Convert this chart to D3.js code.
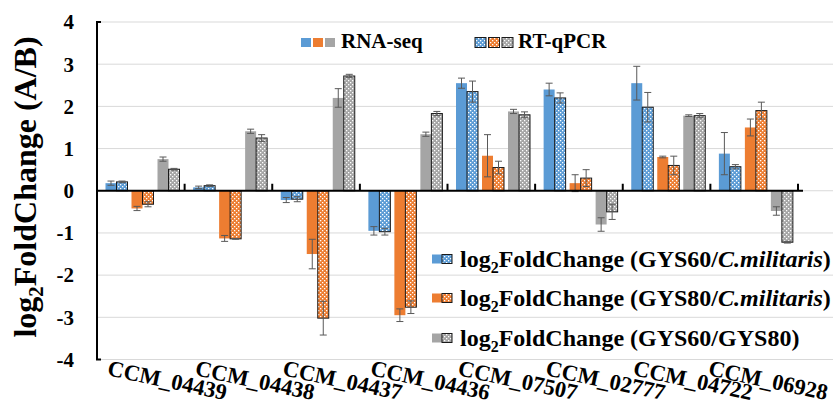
<!DOCTYPE html>
<html>
<head>
<meta charset="utf-8">
<script src="https://cdn.jsdelivr.net/npm/d3@7"></script>
<style>
  body { margin: 0; background: #fff; }
  svg text { font-family: "Liberation Serif", "Times New Roman", serif; font-weight: bold; fill: #000; }
</style>
</head>
<body>
<svg id="chart" width="833" height="408"></svg>
<script>
// categories
var categories = ["CCM_04439", "CCM_04438", "CCM_04437", "CCM_04436", "CCM_07507", "CCM_02777", "CCM_04722", "CCM_06928"];

// log2 fold change, RNA-seq and RT-qPCR, with error
var rnaGys60Cm      = [0.18, 0.08, -0.22, -0.95, 2.55, 2.40, 2.55, 0.88];
var rnaGys60CmErr   = [0.05, 0.03, 0.06, 0.10, 0.12, 0.15, 0.40, 0.50];
var qpcrGys60Cm     = [0.21, 0.12, -0.20, -0.97, 2.35, 2.20, 1.98, 0.57];
var qpcrGys60CmErr  = [0.02, 0.02, 0.06, 0.08, 0.25, 0.12, 0.35, 0.05];
var rnaGys80Cm      = [-0.42, -1.13, -1.50, -2.95, 0.83, 0.18, 0.80, 1.50];
var rnaGys80CmErr   = [0.05, 0.07, 0.35, 0.15, 0.50, 0.20, 0.02, 0.20];
var qpcrGys80Cm     = [-0.32, -1.14, -3.02, -2.76, 0.55, 0.30, 0.60, 1.90];
var qpcrGys80CmErr  = [0.06, 0.01, 0.40, 0.15, 0.15, 0.20, 0.22, 0.20];
var rnaGys60_80     = [0.75, 1.41, 2.20, 1.34, 1.88, -0.80, 1.78, -0.48];
var rnaGys60_80Err  = [0.05, 0.05, 0.22, 0.05, 0.05, 0.16, 0.02, 0.10];
var qpcrGys60_80    = [0.51, 1.25, 2.72, 1.83, 1.80, -0.50, 1.78, -1.22];
var qpcrGys60_80Err = [0.02, 0.08, 0.04, 0.05, 0.07, 0.18, 0.05, 0.02];

var yTicks = [-4, -3, -2, -1, 0, 1, 2, 3, 4];

var colors = ["#5b9bd5", "#ed7d31", "#a5a5a5"];

var series = [
    { values: rnaGys60Cm,   err: rnaGys60CmErr,   color: 0, hatched: false },
    { values: qpcrGys60Cm,  err: qpcrGys60CmErr,  color: 0, hatched: true },
    { values: rnaGys80Cm,   err: rnaGys80CmErr,   color: 1, hatched: false },
    { values: qpcrGys80Cm,  err: qpcrGys80CmErr,  color: 1, hatched: true },
    { values: rnaGys60_80,  err: rnaGys60_80Err,  color: 2, hatched: false },
    { values: qpcrGys60_80, err: qpcrGys60_80Err, color: 2, hatched: true },
];

var svg = d3.select("#chart");

// hatched (dotted) fills
var defs = svg.append("defs");
colors.forEach(function(c, i) {
    var p = defs.append("pattern")
        .attr("id", "hatch-" + i)
        .attr("patternUnits", "userSpaceOnUse")
        .attr("width", 4).attr("height", 4);
    p.append("rect").attr("width", 4).attr("height", 4).attr("fill", c);
    p.append("rect").attr("x", 0).attr("y", 0).attr("width", 1.3).attr("height", 1.3).attr("fill", "#fff");
    p.append("rect").attr("x", 2).attr("y", 2).attr("width", 1.3).attr("height", 1.3).attr("fill", "#fff");
});

function fillOf(s) {
    return s.hatched ? "url(#hatch-" + s.color + ")" : colors[s.color];
}

var x = d3.scaleBand().domain(categories).range([97, 798]);
var pair = d3.scaleBand().domain([0, 1, 2]).range([8.5, 82.5]).paddingInner(4 / 26);
var barW = pair.bandwidth() / 2;
var y = d3.scaleLinear().domain([-4, 4]).range([359.5, 22]);

// gridlines
svg.append("g").selectAll("line")
    .data(yTicks)
    .enter().append("line")
        .attr("x1", 97).attr("x2", 833)
        .attr("y1", (d) => y(d)).attr("y2", (d) => y(d))
        .attr("stroke", "#d9d9d9").attr("stroke-width", 1);

// y tick labels
svg.append("g").selectAll("text")
    .data(yTicks)
    .enter().append("text")
        .attr("x", 74)
        .attr("y", (d) => y(d))
        .attr("dy", "0.35em")
        .attr("text-anchor", "end")
        .style("font-size", "21px")
        .text((d) => d);

// bars
var bars = svg.append("g");
series.forEach(function(s, i) {
    var off = pair(Math.floor(i / 2)) + (i % 2) * barW;
    var g = bars.append("g");
    g.selectAll("rect")
        .data(s.values)
        .enter().append("rect")
            .attr("x", (d, j) => x(categories[j]) + off)
            .attr("width", barW)
            .attr("y", (d) => y(Math.max(0, d)))
            .attr("height", (d) => Math.abs(y(d) - y(0)))
            .attr("fill", fillOf(s))
            .attr("stroke", s.hatched ? "#1a1a1a" : "none")
            .attr("stroke-width", 1);

    // error bars
    var eb = g.selectAll("g.err")
        .data(s.values)
        .enter().append("g")
            .classed("err", true)
            .attr("stroke", "#595959").attr("stroke-width", 1);
    eb.append("line")
        .attr("x1", (d, j) => x(categories[j]) + off + barW / 2)
        .attr("x2", (d, j) => x(categories[j]) + off + barW / 2)
        .attr("y1", (d, j) => y(d - s.err[j]))
        .attr("y2", (d, j) => y(d + s.err[j]));
    [-1, 1].forEach(function(sign) {
        eb.append("line")
            .attr("x1", (d, j) => x(categories[j]) + off + barW / 2 - 3.5)
            .attr("x2", (d, j) => x(categories[j]) + off + barW / 2 + 3.5)
            .attr("y1", (d, j) => y(d + sign * s.err[j]))
            .attr("y2", (d, j) => y(d + sign * s.err[j]));
    });
});

// axes
svg.append("line")
    .attr("x1", 97).attr("x2", 803)
    .attr("y1", y(0)).attr("y2", y(0))
    .attr("stroke", "#000").attr("stroke-width", 2);
svg.append("g").selectAll("line")
    .data(categories.slice(1).concat(["end"]))
    .enter().append("line")
        .attr("x1", (d) => d == "end" ? 798 : x(d))
        .attr("x2", (d) => d == "end" ? 798 : x(d))
        .attr("y1", y(0)).attr("y2", y(0) - 7)
        .attr("stroke", "#000").attr("stroke-width", 2);
svg.append("path")
    .attr("d", "M101," + y(4) + "H97V" + y(-4) + "H101")
    .attr("fill", "none")
    .attr("stroke", "#000").attr("stroke-width", 2);

// x labels, rotated; pushed left when they would run off the right edge
var angle = 12;
svg.append("g").selectAll("text")
    .data(categories)
    .enter().append("text")
        .style("font-size", "22.5px")
        .text((d) => d)
        .attr("transform", function(d) {
            var w = this.getComputedTextLength() * Math.cos(angle * Math.PI / 180);
            var sx = Math.min(x(d) + 9.5, 826 - w);
            return "translate(" + sx + ",375) rotate(" + angle + ")";
        });

// y title
var yt = svg.append("text")
    .attr("transform", "translate(36,187) rotate(-90)")
    .attr("text-anchor", "middle")
    .style("font-size", "32px");
yt.append("tspan").text("log");
yt.append("tspan").attr("dy", 7).style("font-size", "21px").text("2");
yt.append("tspan").attr("dy", -7).text("FoldChange (A/B)");

// top legend
var topLegend = svg.append("g");
[0, 1, 2].forEach(function(c) {
    topLegend.append("rect")
        .attr("x", 301 + c * 12).attr("y", 38)
        .attr("width", 10).attr("height", 9)
        .attr("fill", colors[c]);
    topLegend.append("rect")
        .attr("x", 475 + c * 13.5).attr("y", 37.5)
        .attr("width", 11).attr("height", 10)
        .attr("fill", "url(#hatch-" + c + ")")
        .attr("stroke", "#1a1a1a").attr("stroke-width", 1);
});
topLegend.append("text").attr("x", 341).attr("y", 48).style("font-size", "21px").text("RNA-seq");
topLegend.append("text").attr("x", 518).attr("y", 48).style("font-size", "21px").text("RT-qPCR");

// right legend
var legendRows = [
    { color: 0, y: 259, label: "GYS60/", italic: "C.militaris", tail: ")" },
    { color: 1, y: 298, label: "GYS80/", italic: "C.militaris", tail: ")" },
    { color: 2, y: 338, label: "GYS60/GYS80)", italic: "", tail: "" },
];
var lg = svg.append("g");
legendRows.forEach(function(r) {
    lg.append("rect")
        .attr("x", 432).attr("y", r.y - 4.5)
        .attr("width", 10).attr("height", 9)
        .attr("fill", colors[r.color]);
    lg.append("rect")
        .attr("x", 442).attr("y", r.y - 4.5)
        .attr("width", 10).attr("height", 9)
        .attr("fill", "url(#hatch-" + r.color + ")")
        .attr("stroke", "#1a1a1a").attr("stroke-width", 1);
    var t = lg.append("text")
        .attr("x", 460).attr("y", r.y + 8)
        .style("font-size", "24px");
    t.append("tspan").text("log");
    t.append("tspan").attr("dy", 6).style("font-size", "16px").text("2");
    t.append("tspan").attr("dy", -6).text("FoldChange (" + r.label);
    if (r.italic) t.append("tspan").style("font-style", "italic").text(r.italic);
    if (r.tail) t.append("tspan").text(r.tail);
});
</script>
</body>
</html>
